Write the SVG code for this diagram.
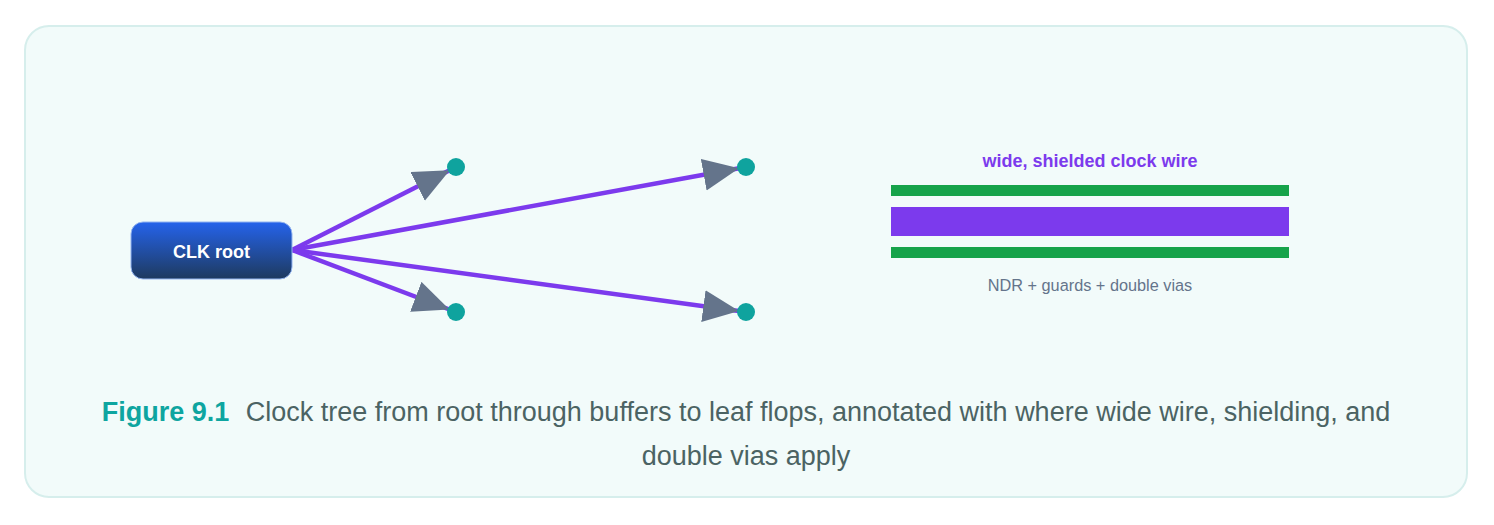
<svg xmlns="http://www.w3.org/2000/svg" width="1494" height="525" viewBox="0 0 1494 525">
  <defs>
    <linearGradient id="rootGrad" x1="0" y1="0" x2="0" y2="1">
      <stop offset="0" stop-color="#2563eb"/>
      <stop offset="1" stop-color="#1e3a5f"/>
    </linearGradient>
    <marker id="arrow" markerUnits="userSpaceOnUse" markerWidth="50" markerHeight="40" viewBox="0 0 50 40" refX="43" refY="16" orient="auto">
      <path d="M0,0 L36,16 L0,32 Z" fill="#64748b"/>
    </marker>
    <style>
      .edge { stroke: #7c3aed; stroke-width: 4.5; fill: none; marker-end: url(#arrow); }
      .leaf { fill: #0fa39e; }
      .lbl { font-family: "Liberation Sans", Arial, sans-serif; }
      .guard { fill: #16a34a; }
      .wire { fill: #7c3aed; }
    </style>
  </defs>
  <rect x="25" y="26" width="1442" height="471" rx="24" ry="24" fill="#f2fbfa" stroke="#d6eeec" stroke-width="2"/>

  <g id="connectors">
    <line class="edge" x1="292" y1="250" x2="456" y2="167"/>
    <line class="edge" x1="292" y1="250" x2="456" y2="312"/>
    <line class="edge" x1="292" y1="250" x2="746" y2="167"/>
    <line class="edge" x1="292" y1="250" x2="746" y2="312"/>
  </g>

  <g id="clk-root">
    <rect x="131" y="222" width="161" height="57" rx="12" ry="12" fill="url(#rootGrad)" stroke="#93b4f0" stroke-width="1"/>
    <text class="lbl" x="211.5" y="258" text-anchor="middle" font-size="18" font-weight="bold" fill="#ffffff">CLK root</text>
  </g>

  <g id="leaf1"><circle class="leaf" cx="456" cy="167" r="9"/></g>
  <g id="leaf2"><circle class="leaf" cx="456" cy="312" r="9"/></g>
  <g id="leaf3"><circle class="leaf" cx="746" cy="167" r="9"/></g>
  <g id="leaf4"><circle class="leaf" cx="746" cy="312" r="9"/></g>

  <g id="wire-detail">
    <text class="lbl" x="1090" y="167" text-anchor="middle" font-size="18" font-weight="bold" fill="#7c3aed">wide, shielded clock wire</text>
    <rect class="guard" x="891" y="185" width="398" height="11"/>
    <rect class="wire" x="891" y="207" width="398" height="29"/>
    <rect class="guard" x="891" y="247" width="398" height="11"/>
    <text class="lbl" x="1090" y="291" text-anchor="middle" font-size="16.3" fill="#64748b">NDR + guards + double vias</text>
  </g>

  <g id="caption">
    <text class="lbl" x="746" y="421" text-anchor="middle" font-size="27" fill="#4b6363"><tspan font-weight="bold" fill="#0ea5a0">Figure 9.1</tspan><tspan dx="9"> Clock tree from root through buffers to leaf flops, annotated with where wide wire, shielding, and</tspan></text>
    <text class="lbl" x="746" y="465" text-anchor="middle" font-size="27" fill="#4b6363">double vias apply</text>
  </g>
</svg>
